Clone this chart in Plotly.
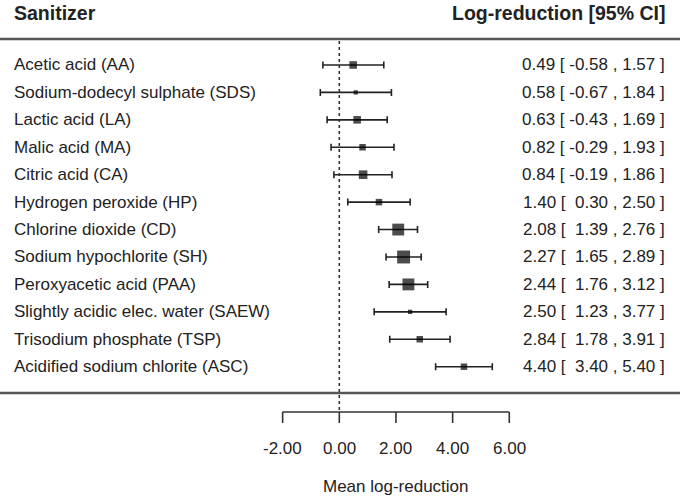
import plotly.graph_objects as go

sanitizers = [
    "Acetic acid (AA)",
    "Sodium-dodecyl sulphate (SDS)",
    "Lactic acid (LA)",
    "Malic acid (MA)",
    "Citric acid (CA)",
    "Hydrogen peroxide (HP)",
    "Chlorine dioxide (CD)",
    "Sodium hypochlorite (SH)",
    "Peroxyacetic acid (PAA)",
    "Slightly acidic elec. water (SAEW)",
    "Trisodium phosphate (TSP)",
    "Acidified sodium chlorite (ASC)",
]
mean_lr = [0.49, 0.58, 0.63, 0.82, 0.84, 1.40, 2.08, 2.27, 2.44, 2.50, 2.84, 4.40]
ci_low = [-0.58, -0.67, -0.43, -0.29, -0.19, 0.30, 1.39, 1.65, 1.76, 1.23, 1.78, 3.40]
ci_high = [1.57, 1.84, 1.69, 1.93, 1.86, 2.50, 2.76, 2.89, 3.12, 3.77, 3.91, 5.40]
# relative weight (%) read from square areas
weights = [6.8, 2.2, 6.8, 5.0, 8.8, 5.0, 16.7, 19.9, 16.7, 2.2, 5.0, 5.0]
axis_ticks = [-2, 0, 2, 4, 6]

W, H = 680, 497
FONT = "Liberation Sans, Arial, Helvetica, sans-serif"
INK = "#222222"


def py(px):
    # pixel row -> paper y
    return 1 - px / H


n = len(sanitizers)
rows = list(range(n, 0, -1))
row1_px, row_step = 366.7, 27.43
zero_px, unit_px = 339.3, 28.33

fig = go.Figure()

fig.add_trace(go.Scatter(
    x=mean_lr,
    y=rows,
    mode="markers",
    marker=dict(symbol="square", color="black",
                size=[2.9 * w ** 0.5 for w in weights],
                line=dict(width=0)),
    error_x=dict(
        type="data",
        symmetric=False,
        array=[h - m for h, m in zip(ci_high, mean_lr)],
        arrayminus=[m - l for m, l in zip(mean_lr, ci_low)],
        thickness=1.6,
        width=3.5,
        color="#222222",
    ),
    hoverinfo="skip",
    showlegend=False,
))

annotations = []
for name, r, m, lo, hi in zip(sanitizers, rows, mean_lr, ci_low, ci_high):
    annotations.append(dict(
        text=name, x=12 / W, xref="paper", y=r, yref="y",
        xanchor="left", yanchor="middle", showarrow=False,
        font=dict(size=17, color=INK, family=FONT),
    ))
    lo_txt = f"{lo:.2f}" if lo < 0 else "\u00a0" + f"{lo:.2f}"
    annotations.append(dict(
        text=f"{m:.2f} [ {lo_txt} , {hi:.2f} ]".replace(" ", "\u00a0"),
        x=667 / W, xref="paper", y=r, yref="y",
        xanchor="right", yanchor="middle", showarrow=False,
        font=dict(size=17, color=INK, family=FONT),
    ))

annotations += [
    dict(text="<b>Sanitizer</b>", x=12 / W, xref="paper", y=py(13), yref="paper",
         xanchor="left", yanchor="middle", showarrow=False,
         font=dict(size=19.5, color=INK, family=FONT)),
    dict(text="<b>Log-reduction [95% CI]</b>", x=667 / W, xref="paper", y=py(13),
         yref="paper", xanchor="right", yanchor="middle", showarrow=False,
         font=dict(size=19.5, color=INK, family=FONT)),
    dict(text="Mean log-reduction", x=2, xref="x", y=py(486), yref="paper",
         xanchor="center", yanchor="middle", showarrow=False,
         font=dict(size=17, color=INK, family=FONT)),
]
for t in axis_ticks:
    annotations.append(dict(
        text=f"{t:.2f}", x=t, xref="x", y=py(448), yref="paper",
        xanchor="center", yanchor="middle", showarrow=False,
        font=dict(size=17, color=INK, family=FONT),
    ))

shapes = [
    dict(type="line", xref="paper", yref="paper", x0=0, x1=1, y0=py(39), y1=py(39),
         line=dict(color="#555555", width=2.5)),
    dict(type="line", xref="paper", yref="paper", x0=0, x1=1, y0=py(393), y1=py(393),
         line=dict(color="#555555", width=2.5)),
    dict(type="line", xref="x", yref="paper", x0=0, x1=0, y0=py(41), y1=py(412),
         line=dict(color="#333333", width=1.6, dash="dot")),
    dict(type="line", xref="x", yref="paper", x0=axis_ticks[0], x1=axis_ticks[-1],
         y0=py(412), y1=py(412), line=dict(color="#333333", width=1.6)),
]
for t in axis_ticks:
    shapes.append(dict(type="line", xref="x", yref="paper", x0=t, x1=t,
                       y0=py(412), y1=py(423),
                       line=dict(color="#333333", width=1.6)))

fig.update_layout(
    width=W, height=H,
    margin=dict(l=0, r=0, t=0, b=0),
    paper_bgcolor="white", plot_bgcolor="white",
    xaxis=dict(visible=False, range=[-zero_px / unit_px, (W - zero_px) / unit_px],
               fixedrange=True),
    yaxis=dict(visible=False,
               range=[1 - (H - row1_px) / row_step, 1 + row1_px / row_step],
               fixedrange=True),
    annotations=annotations,
    shapes=shapes,
    showlegend=False,
)

# page has a default 8px body margin; drop it so the figure fills the window
fig.write_html("out.html", config={"displayModeBar": False},
               post_script="document.body.style.margin='0';")
